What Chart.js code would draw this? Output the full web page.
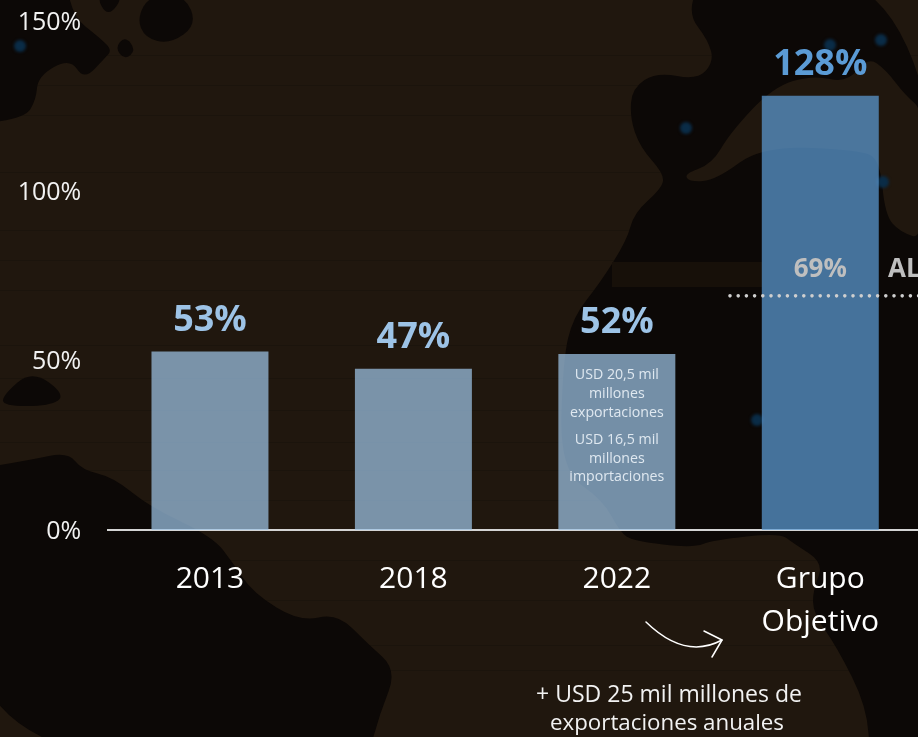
<!DOCTYPE html>
<html lang="es">
<head>
<meta charset="utf-8">
<title>Grupo Objetivo</title>
<style>
html,body{margin:0;padding:0;width:918px;height:737px;overflow:hidden;background:#1f170f}
canvas{display:block}
</style>
<script src="https://cdn.jsdelivr.net/npm/chart.js@4"></script>
</head>
<body>
<canvas id="c" width="930" height="737" style="width:930px;height:737px"></canvas>
<script>
const categories = ["2013", "2018", "2022", ["Grupo", "Objetivo"]];
const barValues = [52.6, 47.5, 51.9, 128];
const valueLabels = ["53%", "47%", "52%", "128%"];
const labelColors = ["#9dc3e6", "#9dc3e6", "#9dc3e6", "#5b9bd5"];
const barColors = ["rgba(157,195,230,.72)", "rgba(157,195,230,.72)", "rgba(157,195,230,.72)", "rgba(91,155,213,.72)"];
const targetValue = 69;
const targetLabel = "69%";
const targetTag = "AL";
const barNotes = ["USD 20,5 mil", "millones", "exportaciones", "USD 16,5 mil", "millones", "importaciones"];
const footNote = ["+ USD 25 mil millones de", "exportaciones anuales"];
const FONT = '"Open Sans", sans-serif';

function blob(ctx, pts) {
  ctx.beginPath();
  const n = pts.length;
  ctx.moveTo((pts[n-1][0]+pts[0][0])/2, (pts[n-1][1]+pts[0][1])/2);
  for (let i = 0; i < n; i++) {
    const p = pts[i], q = pts[(i+1)%n];
    ctx.quadraticCurveTo(p[0], p[1], (p[0]+q[0])/2, (p[1]+q[1])/2);
  }
  ctx.closePath();
  ctx.fill();
}

const backdrop = {
  id: "backdrop",
  beforeDraw(chart) {
    const ctx = chart.ctx;
    ctx.save();
    ctx.fillStyle = "#20170e";
    ctx.fillRect(0, 0, chart.width, chart.height);
    ctx.strokeStyle = "rgba(0,0,0,.13)";
    ctx.lineWidth = 1;
    [55, 85, 115, 172, 230, 260, 290, 345, 378, 410, 442, 470, 500, 560, 600, 645, 670].forEach(y => {
      ctx.beginPath(); ctx.moveTo(0, y + .5); ctx.lineTo(chart.width, y + .5); ctx.stroke();
    });
    ctx.fillStyle = "#0c0806";
    blob(ctx, [[-30,-30],[65,-30],[72,16],[100,38],[112,50],[105,58],[84,80],[70,58],[38,76],[36,100],[25,118],[-30,125]]);
    blob(ctx, [[137,18],[150,-5],[185,-5],[197,25],[170,44],[145,38]]);
    blob(ctx, [[115,48],[125,36],[136,50],[125,60]]);
    blob(ctx, [[95,-6],[125,-6],[108,18]]);
    blob(ctx, [[3,395],[32,370],[66,395],[50,406],[3,406]]);
    blob(ctx, [[-30,470],[30,460],[68,452],[82,470],[113,477],[150,507],[213,537],[233,563],[253,593],[300,622],[337,613],[367,643],[397,670],[380,713],[367,760],[-30,760]]);
    blob(ctx, [[700,-20],[688,14],[708,40],[714,62],[697,80],[657,72],[632,88],[630,118],[640,147],[664,174],[662,188],[634,213],[627,240],[600,283],[573,317],[563,360],[560,470],[603,500],[620,532],[633,541],[693,548],[713,540],[780,533],[793,543],[824,563],[813,590],[813,613],[837,647],[867,707],[870,760],[950,760],[950,-20]]);
    ctx.fillStyle = "#171009";
    ctx.fillRect(612, 262, 150, 25);
    ctx.fillStyle = "#20170e";
    blob(ctx, [[684,174],[712,164],[730,133],[773,87],[813,75],[847,83],[868,57],[886,70],[905,95],[925,112],[925,240],[900,232],[885,215],[880,160],[860,150],[762,146],[716,180],[690,182]]);
    ctx.fillStyle = "#0a2c47";
    ctx.filter = "blur(1.5px)";
    [[20,46,6],[686,128,6],[881,40,6],[830,45,6],[883,182,6],[757,420,6]].forEach(d => {
      ctx.beginPath(); ctx.arc(d[0], d[1], d[2], 0, Math.PI*2); ctx.fill();
    });
    ctx.filter = "none";
    ctx.restore();
  }
};

const overlay = {
  id: "overlay",
  afterDatasetsDraw(chart) {
    const ctx = chart.ctx;
    const bars = chart.getDatasetMeta(0).data;
    const yScale = chart.scales.y;
    ctx.save();
    ctx.textAlign = "center";
    ctx.textBaseline = "alphabetic";
    ctx.font = "bold 36px " + FONT;
    bars.forEach((b, i) => {
      ctx.fillStyle = labelColors[i];
      ctx.fillText(valueLabels[i], b.x, b.y - 21);
    });
    // target line
    const ty = yScale.getPixelForValue(targetValue);
    ctx.strokeStyle = "#cfcfcf";
    ctx.lineWidth = 3.6;
    ctx.lineCap = "round";
    ctx.setLineDash([0, 8.2]);
    ctx.beginPath(); ctx.moveTo(730, ty); ctx.lineTo(925, ty); ctx.stroke();
    ctx.setLineDash([]);
    ctx.font = "bold 26px " + FONT;
    ctx.fillStyle = "#bfbfbf";
    ctx.fillText(targetLabel, bars[3].x, ty - 19);
    ctx.textAlign = "left";
    ctx.fillText(targetTag, 888, ty - 19);
    ctx.textAlign = "center";
    // notes in the 2022 bar
    ctx.font = "14.2px " + FONT;
    ctx.fillStyle = "#dfe8f0";
    const offs = [25, 44, 63, 90, 109, 127];
    barNotes.forEach((t, i) => ctx.fillText(t, bars[2].x, bars[2].y + offs[i]));
    // foot note
    ctx.fillStyle = "#f2f2f2";
    ctx.font = "23px " + FONT;
    ctx.fillText(footNote[0], 669, 702);
    ctx.font = "22.3px " + FONT;
    ctx.fillText(footNote[1], 667, 730);
    // arrow
    ctx.strokeStyle = "#ffffff";
    ctx.lineWidth = 1.5;
    ctx.lineCap = "round";
    ctx.lineJoin = "round";
    ctx.beginPath(); ctx.moveTo(646, 622); ctx.quadraticCurveTo(685, 660, 722, 640); ctx.stroke();
    ctx.beginPath(); ctx.moveTo(704, 631); ctx.lineTo(722, 640); ctx.lineTo(712, 657); ctx.stroke();
    ctx.restore();
  }
};

new Chart(document.getElementById("c"), {
  type: "bar",
  data: {
    labels: categories,
    datasets: [{ data: barValues, backgroundColor: barColors, borderWidth: 0, barPercentage: 0.575, categoryPercentage: 1 }]
  },
  plugins: [backdrop, overlay],
  options: {
    responsive: false,
    animation: false,
    layout: { padding: { top: 21, right: 8, left: 0, bottom: 0 } },
    plugins: { legend: { display: false }, tooltip: { enabled: false } },
    scales: {
      x: {
        afterFit(s) { s.height = 207; },
        grid: { display: false, drawTicks: false },
        border: { display: true, color: "#d4d4d4", width: 2 },
        ticks: { color: "#ffffff", font: { family: "Open Sans", size: 30, lineHeight: 1.43 }, padding: 28, maxRotation: 0, autoSkip: false }
      },
      y: {
        min: 0, max: 150,
        afterFit(s) { s.width = 108.25; s.paddingTop = 0; s.paddingBottom = 0; },
        grid: { display: false, drawTicks: false },
        border: { display: false },
        ticks: { stepSize: 50, color: "#f2f2f2", font: { family: "Open Sans", size: 25 }, padding: 27, labelOffset: 2, callback: v => v + "%" }
      }
    }
  }
});
</script>
</body>
</html>
